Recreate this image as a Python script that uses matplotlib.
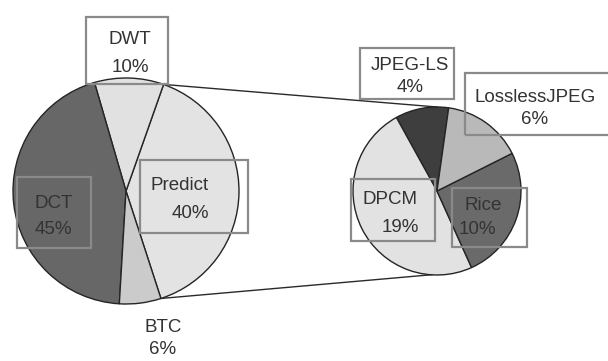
import matplotlib
matplotlib.use("Agg")
import matplotlib.pyplot as plt
from matplotlib.patches import Rectangle
import numpy as np

# ---- data ----
main_labels = ["Predict", "DWT", "DCT", "BTC"]
main_values = [40, 10, 45, 6]
main_colors = ["#e3e3e3", "#e1e1e1", "#676767", "#cbcbcb"]

sub_labels = ["JPEG-LS", "DPCM", "Rice", "LosslessJPEG"]
sub_values = [4, 19, 10, 6]
sub_colors = ["#3e3e3e", "#e2e2e2", "#6a6a6a", "#b9b9b9"]

W, H = 608, 361
fig = plt.figure(figsize=(W / 100, H / 100), dpi=100)
ax = fig.add_axes([0, 0, 1, 1])

def Y(y):  # pixel row -> data y
    return H - y

plt.rcParams['font.family'] = ['Liberation Sans', 'DejaVu Sans']
TXT = "#333333"
BOX = "#8a8a8a"
EDGE = "#252525"

# main pie
c1 = (126, Y(191)); r1 = 113
start1 = -72
w1, _ = ax.pie(main_values, colors=main_colors, startangle=start1, counterclock=True,
               center=c1, radius=r1, frame=True,
               wedgeprops=dict(edgecolor=EDGE, linewidth=1.0))

# sub pie
c2 = (437, Y(191)); r2 = 84
w2, _ = ax.pie(sub_values, colors=sub_colors, startangle=82, counterclock=True,
               center=c2, radius=r2, frame=True,
               wedgeprops=dict(edgecolor=EDGE, linewidth=1.0))

# connection lines from Predict wedge edges to top/bottom of sub pie
pw = w1[0]
ta, tb = np.deg2rad(pw.theta2), np.deg2rad(pw.theta1)
p_top = (c1[0] + r1 * np.cos(ta), c1[1] + r1 * np.sin(ta))
p_bot = (c1[0] + r1 * np.cos(tb), c1[1] + r1 * np.sin(tb))
ax.plot([p_top[0], c2[0]], [p_top[1], c2[1] + r2], color="#2a2a2a", lw=1.0, zorder=0)
ax.plot([p_bot[0], c2[0] - 5], [p_bot[1], c2[1] - r2 + 0.3], color="#2a2a2a", lw=1.0, zorder=0)

fs = 13.5
def label(x, y, s, ha="center"):
    ax.text(x, Y(y), s, ha=ha, va="center", fontsize=fs, color=TXT, zorder=5)

def box(x0, y0, x1, y1):
    ax.add_patch(Rectangle((x0, Y(y1)), x1 - x0, y1 - y0, fill=False,
                           edgecolor=BOX, linewidth=1.6, zorder=4, clip_on=False))

# main labels
box(86, 17, 168, 84)
label(130, 40, main_labels[1]); label(130, 67, f"{main_values[1]}%")
box(140, 160, 248, 233)
label(150, 186, main_labels[0], ha="left"); label(172, 213, f"{main_values[0]}%", ha="left")
box(17, 177, 91, 248)
label(34, 203, main_labels[2], ha="left"); label(35, 230, f"{main_values[2]}%", ha="left")
label(163, 327, main_labels[3]); label(163, 350, f"{main_values[3]}%")

# sub labels
box(360, 48, 454, 99)
label(410, 65, sub_labels[0]); label(410, 88, f"{sub_values[0]}%")
box(465, 73, 612, 135)
label(535, 97, sub_labels[3]); label(535, 120, f"{sub_values[3]}%")
box(351, 179, 435, 241)
label(390, 200, sub_labels[1]); label(400, 228, f"{sub_values[1]}%")
box(452, 188, 527, 247)
label(483, 206, sub_labels[2]); label(477, 230, f"{sub_values[2]}%")

ax.set_xlim(0, W)
ax.set_ylim(0, H)
ax.set_aspect("auto")
ax.axis("off")
fig.savefig("out.png", dpi=100)
